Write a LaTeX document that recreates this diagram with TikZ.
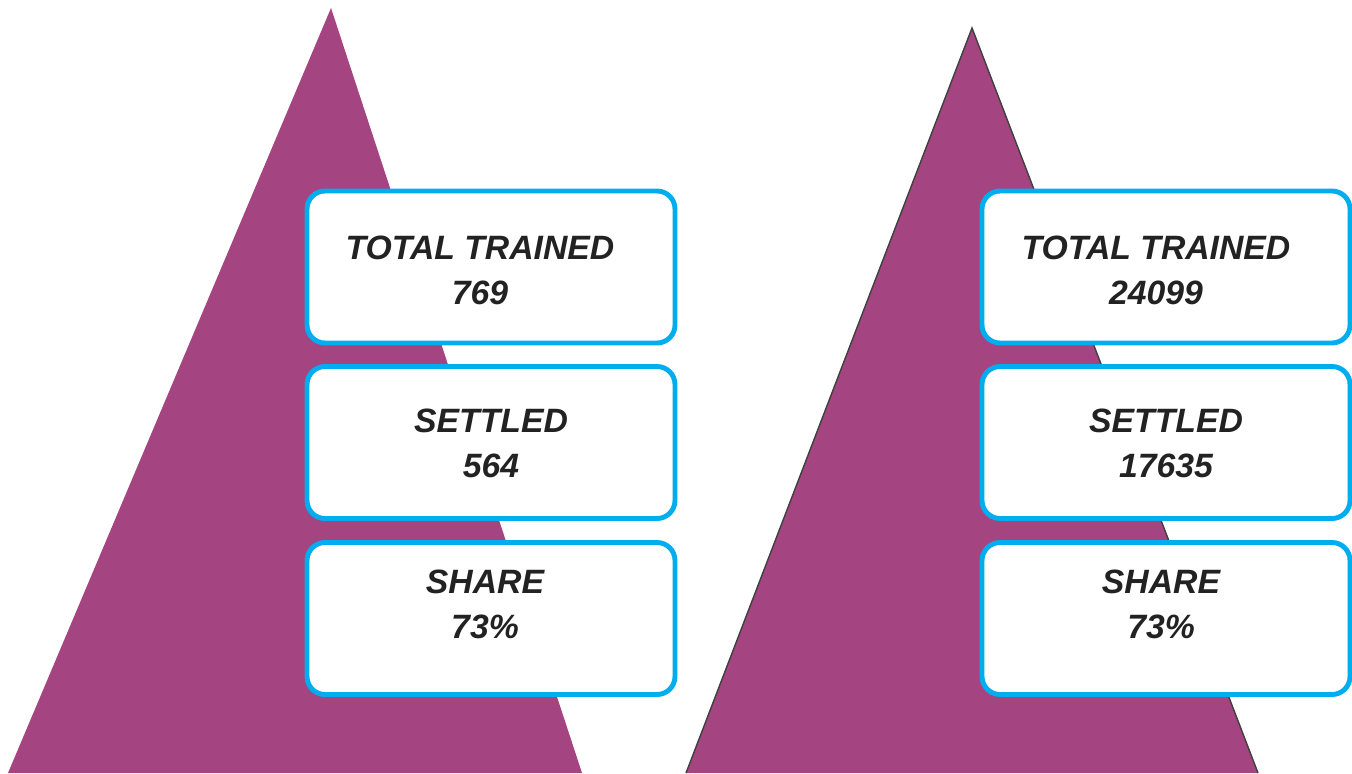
\documentclass[tikz,border=0pt]{standalone}
\usepackage{fontspec}
\setmainfont{Liberation Sans}
\usepackage{tikz}
\usetikzlibrary{calc}

\definecolor{pyramid}{RGB}{164,68,128}
\definecolor{cardline}{RGB}{0,174,239}
\definecolor{cardtext}{RGB}{34,34,34}

\begin{document}
\begin{tikzpicture}[card/.style={draw=cardline, line width=1.4pt, fill=white, rounded corners=0.18cm, minimum width=3.68cm, minimum height=1.52cm},
	figure/.style={align=center, text=cardtext, font=\fontsize{9.6}{12.8}\selectfont\bfseries\itshape}]

	\useasboundingbox (0,0) rectangle (13.52,7.73);

	\fill [pyramid] (0.08,0) -- (3.31,7.65) -- (5.82,0) -- cycle;
	\fill [pyramid] (6.86,0) -- (9.72,7.45) -- (12.58,0) -- cycle;
	\draw [black!75, line width=0.4pt] (6.86,0) -- (9.72,7.45) -- (12.58,0);

	\node[card] (A) at (4.91,5.06) {};
	\node[card] (B) at (4.91,3.305) {};
	\node[card] (C) at (4.91,1.545) {};
	\node[card] (a) at (11.66,5.06) {};
	\node[card] (b) at (11.66,3.305) {};
	\node[card] (c) at (11.66,1.545) {};

	\node[figure] (At) at ([xshift=-0.11cm,yshift=-0.03cm]A.center) {TOTAL TRAINED\\769};
	\node[figure] (Bt) at ([yshift=-0.01cm]B.center) {SETTLED\\564};
	\node[figure] (Ct) at ([xshift=-0.06cm,yshift=0.14cm]C.center) {SHARE\\73\%};
	\node[figure] (at) at ([xshift=-0.1cm,yshift=-0.03cm]a.center) {TOTAL TRAINED\\24099};
	\node[figure] (bt) at ([yshift=-0.01cm]b.center) {SETTLED\\17635};
	\node[figure] (ct) at ([xshift=-0.05cm,yshift=0.14cm]c.center) {SHARE\\73\%};

\end{tikzpicture}
\end{document}
